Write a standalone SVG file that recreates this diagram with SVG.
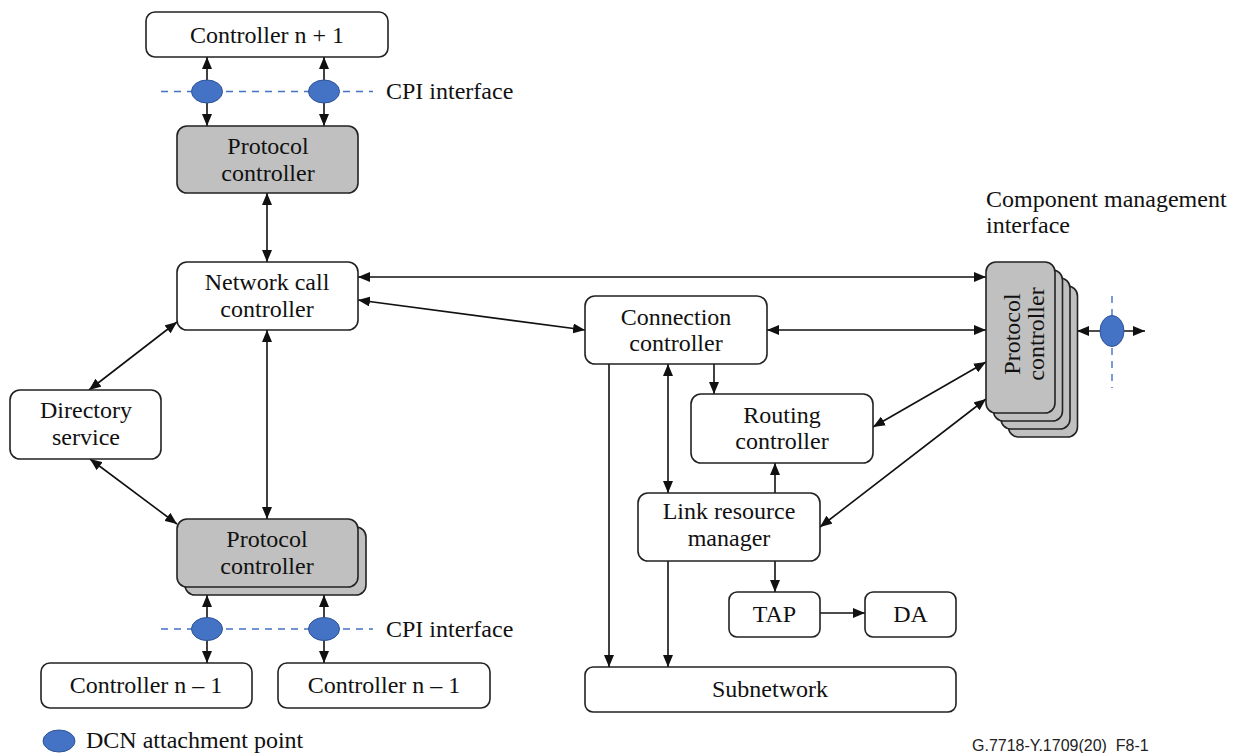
<svg xmlns="http://www.w3.org/2000/svg" width="1235" height="753" viewBox="0 0 1235 753">
<style>
.box{fill:#fff;stroke:#222;stroke-width:1.6}
.gbox{fill:#c0c0c0;stroke:#222;stroke-width:1.6}
.t{font-family:"Liberation Serif","Times New Roman",serif;font-size:24px;fill:#111}
.c{text-anchor:middle}
.ln{stroke:#111;stroke-width:1.6;fill:none}
.dash{stroke:#4472c4;stroke-width:1.4;stroke-dasharray:7 6;fill:none}
.dcn{fill:#4472c4;stroke:#2f5597;stroke-width:1}
</style>
<defs>
<marker id="ah" viewBox="0 0 12 10" refX="12" refY="5" markerWidth="12" markerHeight="10" markerUnits="userSpaceOnUse" orient="auto-start-reverse">
<path d="M0,0 L12,5 L0,10 z" fill="#111"/>
</marker>
</defs>
<rect width="1235" height="753" fill="#fff"/>

<g id="connectors">
<line class="ln" x1="207" y1="57" x2="207" y2="126" marker-start="url(#ah)" marker-end="url(#ah)"/>
<line class="ln" x1="324" y1="57" x2="324" y2="126" marker-start="url(#ah)" marker-end="url(#ah)"/>
<line class="ln" x1="267" y1="193" x2="267" y2="262" marker-start="url(#ah)" marker-end="url(#ah)"/>
<line class="ln" x1="358" y1="277" x2="986" y2="277" marker-start="url(#ah)" marker-end="url(#ah)"/>
<line class="ln" x1="358" y1="300" x2="585" y2="330" marker-start="url(#ah)" marker-end="url(#ah)"/>
<line class="ln" x1="177" y1="322" x2="89" y2="390" marker-start="url(#ah)" marker-end="url(#ah)"/>
<line class="ln" x1="267" y1="330" x2="267" y2="519" marker-start="url(#ah)" marker-end="url(#ah)"/>
<line class="ln" x1="90" y1="459" x2="177" y2="524" marker-start="url(#ah)" marker-end="url(#ah)"/>
<line class="ln" x1="207" y1="595" x2="207" y2="663" marker-start="url(#ah)" marker-end="url(#ah)"/>
<line class="ln" x1="324" y1="595" x2="324" y2="663" marker-start="url(#ah)" marker-end="url(#ah)"/>
<line class="ln" x1="767" y1="330" x2="986" y2="330" marker-start="url(#ah)" marker-end="url(#ah)"/>
<line class="ln" x1="714" y1="364" x2="714" y2="394" marker-end="url(#ah)"/>
<line class="ln" x1="668" y1="364" x2="668" y2="493" marker-start="url(#ah)" marker-end="url(#ah)"/>
<line class="ln" x1="609" y1="364" x2="609" y2="667" marker-end="url(#ah)"/>
<line class="ln" x1="775" y1="493" x2="775" y2="463" marker-end="url(#ah)"/>
<line class="ln" x1="775" y1="561" x2="775" y2="592" marker-end="url(#ah)"/>
<line class="ln" x1="668" y1="561" x2="668" y2="667" marker-end="url(#ah)"/>
<line class="ln" x1="820" y1="613" x2="865" y2="613" marker-end="url(#ah)"/>
<line class="ln" x1="986" y1="362" x2="873" y2="427" marker-start="url(#ah)" marker-end="url(#ah)"/>
<line class="ln" x1="986" y1="399" x2="820" y2="527" marker-start="url(#ah)" marker-end="url(#ah)"/>
<line class="ln" x1="1077" y1="331" x2="1145" y2="331" marker-start="url(#ah)" marker-end="url(#ah)"/>
</g>

<g id="cpi-top">
<line class="dash" x1="161" y1="91.5" x2="373" y2="91.5"/>
<ellipse class="dcn" cx="207" cy="91.5" rx="15.5" ry="11.5"/>
<ellipse class="dcn" cx="324" cy="91.5" rx="15.5" ry="11.5"/>
<text class="t" x="386" y="99">CPI interface</text>
</g>

<g id="cpi-bottom">
<line class="dash" x1="161" y1="629" x2="373" y2="629"/>
<ellipse class="dcn" cx="207" cy="629" rx="15.5" ry="11.5"/>
<ellipse class="dcn" cx="324" cy="629" rx="15.5" ry="11.5"/>
<text class="t" x="386" y="637">CPI interface</text>
</g>

<g id="cmi">
<line class="dash" x1="1112" y1="296" x2="1112" y2="388"/>
<ellipse class="dcn" cx="1112" cy="331" rx="12" ry="15.5"/>
<text class="t" x="986" y="207">Component management</text>
<text class="t" x="986" y="233">interface</text>
</g>

<g id="controller-n-plus-1">
<rect class="box" x="146" y="12" width="242" height="45" rx="9"/>
<text class="t c" x="267" y="43">Controller n + 1</text>
</g>

<g id="protocol-controller-top">
<rect class="gbox" x="177" y="126" width="181" height="67" rx="10"/>
<text class="t c" x="268" y="154">Protocol</text>
<text class="t c" x="268" y="181">controller</text>
</g>

<g id="network-call-controller">
<rect class="box" x="177" y="262" width="181" height="68" rx="10"/>
<text class="t c" x="267" y="290">Network call</text>
<text class="t c" x="267" y="317">controller</text>
</g>

<g id="directory-service">
<rect class="box" x="10" y="390" width="151" height="69" rx="10"/>
<text class="t c" x="86" y="418">Directory</text>
<text class="t c" x="86" y="445">service</text>
</g>

<g id="protocol-controller-bottom">
<rect class="gbox" x="185" y="527" width="181" height="68" rx="10"/>
<rect class="gbox" x="177" y="519" width="181" height="68" rx="10"/>
<text class="t c" x="267" y="547">Protocol</text>
<text class="t c" x="267" y="574">controller</text>
</g>

<g id="controller-n-minus-1-a">
<rect class="box" x="41" y="663" width="211" height="45" rx="9"/>
<text class="t c" x="146" y="693">Controller n – 1</text>
</g>

<g id="controller-n-minus-1-b">
<rect class="box" x="278" y="663" width="212" height="45" rx="9"/>
<text class="t c" x="384" y="693">Controller n – 1</text>
</g>

<g id="connection-controller">
<rect class="box" x="585" y="296" width="182" height="68" rx="10"/>
<text class="t c" x="676" y="325">Connection</text>
<text class="t c" x="676" y="351">controller</text>
</g>

<g id="routing-controller">
<rect class="box" x="691" y="394" width="182" height="69" rx="10"/>
<text class="t c" x="782" y="423">Routing</text>
<text class="t c" x="782" y="449">controller</text>
</g>

<g id="link-resource-manager">
<rect class="box" x="638" y="493" width="182" height="68" rx="10"/>
<text class="t c" x="729" y="519">Link resource</text>
<text class="t c" x="729" y="546">manager</text>
</g>

<g id="tap">
<rect class="box" x="729" y="592" width="91" height="45" rx="8"/>
<text class="t c" x="774.5" y="622">TAP</text>
</g>

<g id="da">
<rect class="box" x="865" y="592" width="91" height="45" rx="8"/>
<text class="t c" x="910.5" y="622">DA</text>
</g>

<g id="subnetwork">
<rect class="box" x="585" y="667" width="371" height="45" rx="8"/>
<text class="t c" x="770" y="697">Subnetwork</text>
</g>

<g id="protocol-controller-stack">
<rect class="gbox" x="1008.5" y="286" width="69" height="151" rx="10"/>
<rect class="gbox" x="1001" y="278" width="69" height="151" rx="10"/>
<rect class="gbox" x="993.5" y="270" width="69" height="151" rx="10"/>
<rect class="gbox" x="986" y="262" width="69" height="151" rx="10"/>
<text class="t c" transform="translate(1020,334) rotate(-90)">Protocol</text>
<text class="t c" transform="translate(1044,334) rotate(-90)">controller</text>
</g>

<g id="legend">
<ellipse class="dcn" cx="59" cy="741" rx="16" ry="11"/>
<text class="t" x="86" y="748">DCN attachment point</text>
</g>

<text x="972" y="751" font-family="Liberation Sans, Arial, sans-serif" font-size="16" fill="#222">G.7718-Y.1709(20)&#160; F8-1</text>
</svg>
